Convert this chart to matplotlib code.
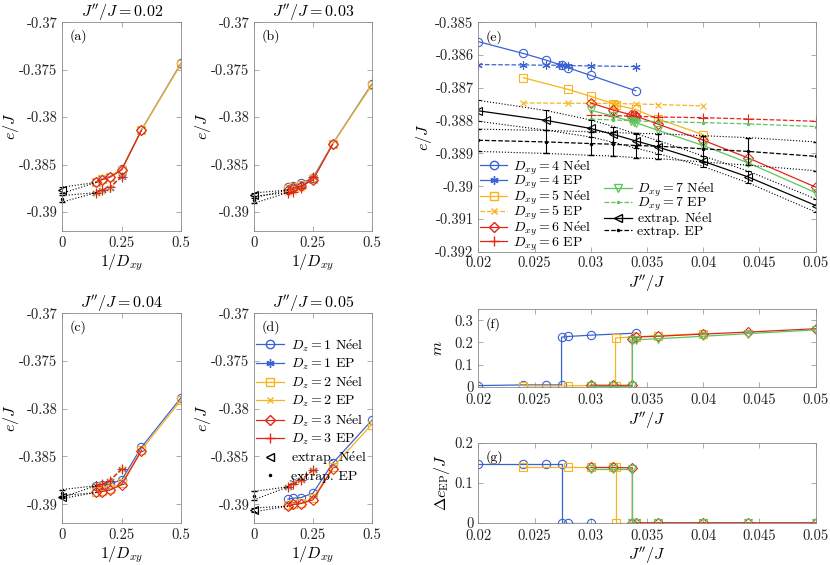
import numpy as np
import matplotlib
matplotlib.use('Agg')
import matplotlib.pyplot as plt
from matplotlib.lines import Line2D
from matplotlib.ticker import FuncFormatter

plt.rcParams['font.family'] = ['cmr10', 'DejaVu Serif']
plt.rcParams['mathtext.fontset'] = 'cm'
plt.rcParams['axes.unicode_minus'] = False
plt.rcParams['axes.formatter.use_mathtext'] = True

BLUE = '#3b62d3'
ORANGE = '#f6b41e'
RED = '#e3241b'
GREEN = '#5cc65c'
GRAY = '#8a8a8a'
NEEL = r'$\mathrm{N\acute{e}el}$'
STAR = (6, 2, 0)

# ---------------- panels (a)-(d): e/J vs 1/Dxy ----------------
inv_dxy = [1/2, 1/3, 1/4, 1/5, 1/6, 1/7]
inv_dxy_ep = [1/4, 1/5, 1/6, 1/7]
jpp_panels = [0.02, 0.03, 0.04, 0.05]

# Dz = 1, 2 (Dxy = 2..7), Dz = 3 (Dxy = 3..7)
dz1_neel = [[-0.37432, -0.38135, -0.38550, -0.38627, -0.38652, -0.38680],
            [-0.37654, -0.38283, -0.38640, -0.38698, -0.38722, -0.38738],
            [-0.37884, -0.38404, -0.38744, -0.38790, -0.38796, -0.38807],
            [-0.38123, -0.38572, -0.38884, -0.38930, -0.38937, -0.38947]]
dz2_neel = [[-0.37440, -0.38137, -0.38553, -0.38632, -0.38657, -0.38684],
            [-0.37664, -0.38285, -0.38655, -0.38715, -0.38738, -0.38755],
            [-0.37912, -0.38430, -0.38780, -0.38840, -0.38858, -0.38868],
            [-0.38165, -0.38615, -0.38940, -0.38985, -0.38993, -0.39005]]
dz3_neel = [[-0.38138, -0.38556, -0.38635, -0.38660, -0.38688],
            [-0.38288, -0.38662, -0.38726, -0.38746, -0.38768],
            [-0.38439, -0.38796, -0.38853, -0.38867, -0.38877],
            [-0.38630, -0.38954, -0.38993, -0.39003, -0.39020]]
# EP states (Dxy = 4..7)
dz1_ep = [[-0.38627, -0.38745, -0.38770, -0.38795],
          [-0.38633, -0.38730, -0.38765, -0.38780],
          [-0.38632, -0.38754, -0.38790, -0.38796],
          [-0.38640, -0.38745, -0.38770, -0.38815]]
dz2_ep = [[-0.38620, -0.38750, -0.38775, -0.38800],
          [-0.38635, -0.38745, -0.38780, -0.38790],
          [-0.38628, -0.38752, -0.38788, -0.38800],
          [-0.38645, -0.38750, -0.38775, -0.38818]]
dz3_ep = [[-0.38627, -0.38740, -0.38768, -0.38796],
          [-0.38633, -0.38748, -0.38784, -0.38795],
          [-0.38632, -0.38755, -0.38791, -0.38806],
          [-0.38642, -0.38747, -0.38785, -0.38818]]
ext_neel0 = [-0.38770, -0.38824, -0.38924, -0.39059]
ext_neel0_err = [0.00032, 0.00025, 0.00015, 0.00020]
ext_ep0 = [-0.38860, -0.38870, -0.38886, -0.38909]
ext_ep0_err = [0.00034, 0.00036, 0.00040, 0.00044]

# ---------------- panel (e): e/J vs J''/J ----------------
x4n = [0.02, 0.024, 0.026, 0.0274, 0.028, 0.03, 0.034]
e4n = [-0.38559, -0.38595, -0.38615, -0.38631, -0.38639, -0.38662, -0.38709]
x4e = [0.02, 0.024, 0.026, 0.0272, 0.0274, 0.028, 0.03, 0.034]
e4e = [-0.38629, -0.38630, -0.38631, -0.38631, -0.38631, -0.38632, -0.38633, -0.38635]
x5n = [0.024, 0.028, 0.03, 0.032, 0.0322, 0.034, 0.036, 0.04]
e5n = [-0.38669, -0.38705, -0.38726, -0.38748, -0.38752, -0.38766, -0.38795, -0.38843]
x5e = [0.024, 0.028, 0.03, 0.032, 0.0322, 0.034, 0.036, 0.04]
e5e = [-0.38746, -0.38747, -0.38747, -0.38748, -0.38748, -0.38749, -0.38751, -0.38755]
x6n = [0.03, 0.032, 0.0336, 0.0338, 0.034, 0.036, 0.04, 0.044, 0.05]
e6n = [-0.38746, -0.38768, -0.38782, -0.38784, -0.38786, -0.38811, -0.38860, -0.38914, -0.39003]
x6e = [0.03, 0.032, 0.0336, 0.034, 0.036, 0.04, 0.044, 0.05]
e6e = [-0.38784, -0.38785, -0.38786, -0.38787, -0.38789, -0.38791, -0.38795, -0.38802]
x7n = [0.03, 0.032, 0.0336, 0.0338, 0.034, 0.036, 0.04, 0.044, 0.05]
e7n = [-0.38768, -0.38787, -0.38802, -0.38804, -0.38806, -0.38830, -0.38876, -0.38929, -0.39020]
x7e = [0.03, 0.032, 0.0336, 0.034, 0.036, 0.04, 0.044, 0.05]
e7e = [-0.38795, -0.38798, -0.38800, -0.38801, -0.38803, -0.38806, -0.38810, -0.38818]
x_ext = [0.02, 0.026, 0.03, 0.032, 0.034, 0.036, 0.04, 0.044, 0.05]
ext_neel = [-0.38770, -0.38799, -0.38824, -0.38842, -0.38862, -0.38881, -0.38924, -0.38972, -0.39059]
ext_neel_err = [0.00032, 0.00030, 0.00026, 0.00024, 0.00022, 0.00020, 0.00016, 0.00018, 0.00020]
ext_ep = [-0.38860, -0.38865, -0.38870, -0.38872, -0.38876, -0.38878, -0.38886, -0.38894, -0.38909]
ext_ep_err = [0.00034, 0.00035, 0.00036, 0.00036, 0.00037, 0.00038, 0.00040, 0.00042, 0.00044]

# ---------------- panel (f): m ----------------
xf4 = [0.02, 0.024, 0.026, 0.0274, 0.0274, 0.028, 0.03, 0.034]
m4 = [0.005, 0.008, 0.008, 0.008, 0.224, 0.227, 0.233, 0.242]
xf5 = [0.024, 0.028, 0.03, 0.032, 0.0322, 0.0322, 0.034, 0.036, 0.04]
m5 = [0.004, 0.004, 0.005, 0.005, 0.005, 0.220, 0.226, 0.230, 0.240]
xf6 = [0.03, 0.032, 0.0337, 0.0337, 0.034, 0.036, 0.04, 0.044, 0.05]
m6 = [0.007, 0.006, 0.006, 0.215, 0.225, 0.228, 0.238, 0.247, 0.262]
xf7 = [0.03, 0.032, 0.0337, 0.0337, 0.034, 0.036, 0.04, 0.044, 0.05]
m7 = [0.001, 0.001, 0.001, 0.210, 0.212, 0.217, 0.228, 0.240, 0.257]

# ---------------- panel (g): Delta e_EP ----------------
xg4 = [0.02, 0.024, 0.026, 0.0274, 0.0274, 0.028, 0.03]
d4 = [0.147, 0.147, 0.147, 0.147, 0.0, 0.0, 0.0]
xg5 = [0.024, 0.028, 0.03, 0.032, 0.0322, 0.0322, 0.034, 0.036, 0.04]
d5 = [0.140, 0.140, 0.140, 0.140, 0.140, 0.0, 0.0, 0.0, 0.0]
xg6 = [0.03, 0.032, 0.0337, 0.0337, 0.034, 0.036, 0.04, 0.044, 0.05]
d6 = [0.138, 0.138, 0.137, 0.0, 0.0, 0.0, 0.0, 0.0, 0.0]
xg7 = [0.03, 0.032, 0.0337, 0.0337, 0.034, 0.036, 0.04, 0.044, 0.05]
d7 = [0.135, 0.135, 0.135, 0.0, 0.0, 0.0, 0.0, 0.0, 0.0]

TICK_FS = 10.5
LAB_FS = 11.5
LEG_FS = 10
fmt = FuncFormatter(lambda v, p: '%g' % round(v, 6))
mk = dict(mfc='none', ms=6, mew=0.8, lw=0.9)


def style(ax):
    for s in ax.spines.values():
        s.set_color(GRAY)
        s.set_linewidth(0.6)
    ax.tick_params(direction='in', top=True, right=True, length=3.5, width=0.5,
                   color=GRAY, labelsize=TICK_FS, labelcolor='#222222')
    ax.xaxis.set_major_formatter(fmt)
    ax.yaxis.set_major_formatter(fmt)


def noclip(eb):
    for a in list(eb.lines[1]) + list(eb.lines[2]):
        a.set_clip_on(False)
    if eb.lines[0] is not None:
        eb.lines[0].set_clip_on(False)


fig = plt.figure(figsize=(8.3, 5.65), dpi=100)
pos = [[0.0751, 0.5912, 0.1430, 0.3694], [0.3064, 0.5912, 0.1414, 0.3694],
       [0.0751, 0.0738, 0.1430, 0.3717], [0.3064, 0.0738, 0.1414, 0.3717]]
letters = ['(a)', '(b)', '(c)', '(d)']

for i in range(4):
    ax = fig.add_axes(pos[i])
    ax.plot(inv_dxy, dz1_neel[i], '-o', color=BLUE, **mk)
    ax.plot(inv_dxy_ep, dz1_ep[i], '--', marker=STAR, color=BLUE, ms=6, mew=0.8, lw=0.9)
    ax.plot(inv_dxy, dz2_neel[i], '-s', color=ORANGE, **mk)
    ax.plot(inv_dxy_ep, dz2_ep[i], '--x', color=ORANGE, ms=5, mew=0.8, lw=0.9)
    ax.plot(inv_dxy[1:], dz3_neel[i], '-D', color=RED, mfc='none', ms=5, mew=0.8, lw=0.9)
    ax.plot(inv_dxy_ep, dz3_ep[i], '--+', color=RED, ms=7, mew=0.8, lw=0.9)
    for y0 in (ext_neel0[i] - ext_neel0_err[i], ext_neel0[i] + ext_neel0_err[i]):
        ax.plot([inv_dxy[-1], 0], [dz3_neel[i][-1], y0], ':', color='k', lw=0.8)
    for y0 in (ext_ep0[i] - ext_ep0_err[i], ext_ep0[i] + ext_ep0_err[i]):
        ax.plot([inv_dxy_ep[-1], 0], [dz3_ep[i][-1], y0], ':', color='k', lw=0.8)
    eb = ax.errorbar([0], [ext_neel0[i]], yerr=[ext_neel0_err[i]], fmt='<', color='k',
                     mfc='none', ms=6, mew=0.8, elinewidth=0.8, capsize=2)
    noclip(eb)
    eb = ax.errorbar([0], [ext_ep0[i]], yerr=[ext_ep0_err[i]], fmt='.', color='k',
                     ms=3, elinewidth=0.8, capsize=2)
    noclip(eb)
    ax.set_xlim(0, 0.5)
    ax.set_ylim(-0.392, -0.37)
    ax.set_xticks([0, 0.25, 0.5])
    ax.set_yticks([-0.39, -0.385, -0.38, -0.375, -0.37])
    style(ax)
    ax.set_xlabel(r'$1/D_{xy}$', fontsize=LAB_FS, labelpad=2)
    ax.set_ylabel(r'$e/J$', fontsize=LAB_FS)
    ax.yaxis.set_label_coords(-0.35, 0.5)
    ax.set_title(r"$J^{\prime\prime}/J = %g$" % jpp_panels[i], fontsize=LAB_FS, pad=4)
    ax.text(0.06, 0.965, letters[i], transform=ax.transAxes, ha='left', va='top', fontsize=LEG_FS)
    if i == 3:
        hd = [Line2D([], [], color=BLUE, marker='o', mfc='none', ms=6, lw=0.9),
              Line2D([], [], color=BLUE, marker=STAR, ms=6, lw=0.9),
              Line2D([], [], color=ORANGE, marker='s', mfc='none', ms=6, lw=0.9),
              Line2D([], [], color=ORANGE, marker='x', ms=5, lw=0.9),
              Line2D([], [], color=RED, marker='D', mfc='none', ms=5, lw=0.9),
              Line2D([], [], color=RED, marker='+', ms=7, lw=0.9),
              Line2D([], [], color='k', marker='<', mfc='none', ms=6, ls='none'),
              Line2D([], [], color='k', marker='.', ms=3, ls='none')]
        lb = [r'$D_z = 1$ ' + NEEL, r'$D_z = 1$ EP', r'$D_z = 2$ ' + NEEL, r'$D_z = 2$ EP',
              r'$D_z = 3$ ' + NEEL, r'$D_z = 3$ EP', 'extrap. ' + NEEL, 'extrap. EP']
        ax.legend(hd, lb, loc='upper left', bbox_to_anchor=(-0.01, 0.9), frameon=False,
                  fontsize=LEG_FS, handlelength=2.0, handletextpad=0.5, labelspacing=0.2,
                  borderaxespad=0, borderpad=0.2)

# ---------------- (e) ----------------
ax = fig.add_axes([0.5763, 0.5545, 0.4065, 0.4060])
ax.plot(x4n, e4n, '-o', color=BLUE, **mk)
ax.plot(x4e, e4e, '--', marker=STAR, color=BLUE, ms=6, mew=0.8, lw=0.9)
ax.plot(x5n, e5n, '-s', color=ORANGE, **mk)
ax.plot(x5e, e5e, '--x', color=ORANGE, ms=5, mew=0.8, lw=0.9)
ax.plot(x6n, e6n, '-D', color=RED, mfc='none', ms=5, mew=0.8, lw=0.9)
ax.plot(x6e, e6e, '--+', color=RED, ms=7, mew=0.8, lw=0.9)
ax.plot(x7n, e7n, '-v', color=GREEN, **mk)
ax.plot(x7e, e7e, '--.', color=GREEN, ms=3, lw=0.9)
en = np.array(ext_neel)
enr = np.array(ext_neel_err)
ep = np.array(ext_ep)
epr = np.array(ext_ep_err)
for b in (en - enr, en + enr, ep - epr, ep + epr):
    ax.plot(x_ext, b, ':', color='k', lw=0.8)
ax.errorbar(x_ext, ext_neel, yerr=ext_neel_err, fmt='-<', color='k', mfc='none', ms=6,
            mew=0.8, lw=0.9, elinewidth=0.8, capsize=2)
ax.errorbar(x_ext, ext_ep, yerr=ext_ep_err, fmt='--.', color='k', ms=3, lw=0.9,
            elinewidth=0.8, capsize=2)
ax.set_xlim(0.02, 0.05)
ax.set_ylim(-0.392, -0.385)
ax.set_xticks([0.02, 0.025, 0.03, 0.035, 0.04, 0.045, 0.05])
ax.set_yticks(np.arange(-0.392, -0.3845, 0.001))
style(ax)
ax.set_xlabel(r'$J^{\prime\prime}/J$', fontsize=LAB_FS, labelpad=2)
ax.set_ylabel(r'$e/J$', fontsize=LAB_FS)
ax.yaxis.set_label_coords(-0.13, 0.5)
ax.text(0.022, 0.965, '(e)', transform=ax.transAxes, ha='left', va='top', fontsize=LEG_FS)
blank = Line2D([], [], ls='none')
hd = [Line2D([], [], color=BLUE, marker='o', mfc='none', ms=6, lw=0.9),
      Line2D([], [], color=BLUE, marker=STAR, ms=6, lw=0.9),
      Line2D([], [], color=ORANGE, marker='s', mfc='none', ms=6, lw=0.9),
      Line2D([], [], color=ORANGE, marker='x', ms=5, lw=0.9, ls='--'),
      Line2D([], [], color=RED, marker='D', mfc='none', ms=5, lw=0.9),
      Line2D([], [], color=RED, marker='+', ms=7, lw=0.9),
      blank, blank,
      Line2D([], [], color=GREEN, marker='v', mfc='none', ms=6, lw=0.9),
      Line2D([], [], color=GREEN, marker='.', ms=3, lw=0.9, ls='--'),
      Line2D([], [], color='k', marker='<', mfc='none', ms=6, lw=0.9),
      Line2D([], [], color='k', marker='.', ms=3, lw=0.9, ls='--')]
lb = [r'$D_{xy} = 4$ ' + NEEL, r'$D_{xy} = 4$ EP', r'$D_{xy} = 5$ ' + NEEL, r'$D_{xy} = 5$ EP',
      r'$D_{xy} = 6$ ' + NEEL, r'$D_{xy} = 6$ EP', '', '',
      r'$D_{xy} = 7$ ' + NEEL, r'$D_{xy} = 7$ EP', 'extrap. ' + NEEL, 'extrap. EP']
ax.legend(hd, lb, ncol=2, loc='lower left', bbox_to_anchor=(0.0, -0.01), frameon=False,
          fontsize=LEG_FS, handlelength=2.0, handletextpad=0.4, labelspacing=-0.2,
          columnspacing=0.9, borderaxespad=0.0, borderpad=0.1)

# ---------------- (f) ----------------
ax = fig.add_axes([0.5763, 0.3156, 0.4065, 0.1370])
ax.plot(xf4, m4, '-o', color=BLUE, **mk)
ax.plot(xf5, m5, '-s', color=ORANGE, **mk)
ax.plot(xf6, m6, '-D', color=RED, mfc='none', ms=5, mew=0.8, lw=0.9)
ax.plot(xf7, m7, '-v', color=GREEN, **mk)
ax.set_xlim(0.02, 0.05)
ax.set_ylim(0, 0.35)
ax.set_xticks([0.02, 0.025, 0.03, 0.035, 0.04, 0.045, 0.05])
ax.set_yticks([0, 0.1, 0.2, 0.3])
style(ax)
ax.tick_params(axis='x', pad=5)
ax.set_xlabel(r'$J^{\prime\prime}/J$', fontsize=LAB_FS, labelpad=2)
ax.set_ylabel(r'$m$', fontsize=LAB_FS)
ax.yaxis.set_label_coords(-0.1, 0.5)
ax.text(0.022, 0.9, '(f)', transform=ax.transAxes, ha='left', va='top', fontsize=LEG_FS)

# ---------------- (g) ----------------
ax = fig.add_axes([0.5763, 0.0749, 0.4065, 0.1416])
ax.plot(xg4, d4, '-o', color=BLUE, **mk)
ax.plot(xg5, d5, '-s', color=ORANGE, **mk)
ax.plot(xg6, d6, '-D', color=RED, mfc='none', ms=5, mew=0.8, lw=0.9)
ax.plot(xg7, d7, '-v', color=GREEN, **mk)
ax.set_xlim(0.02, 0.05)
ax.set_ylim(0, 0.2)
ax.set_xticks([0.02, 0.025, 0.03, 0.035, 0.04, 0.045, 0.05])
ax.set_yticks([0, 0.1, 0.2])
style(ax)
ax.tick_params(axis='x', pad=5)
ax.set_xlabel(r'$J^{\prime\prime}/J$', fontsize=LAB_FS, labelpad=1)
ax.set_ylabel(r'$\Delta e_{\rm EP}/J$', fontsize=LAB_FS, labelpad=2)
ax.text(0.022, 0.9, '(g)', transform=ax.transAxes, ha='left', va='top', fontsize=LEG_FS)

fig.savefig('out.png', dpi=100)
